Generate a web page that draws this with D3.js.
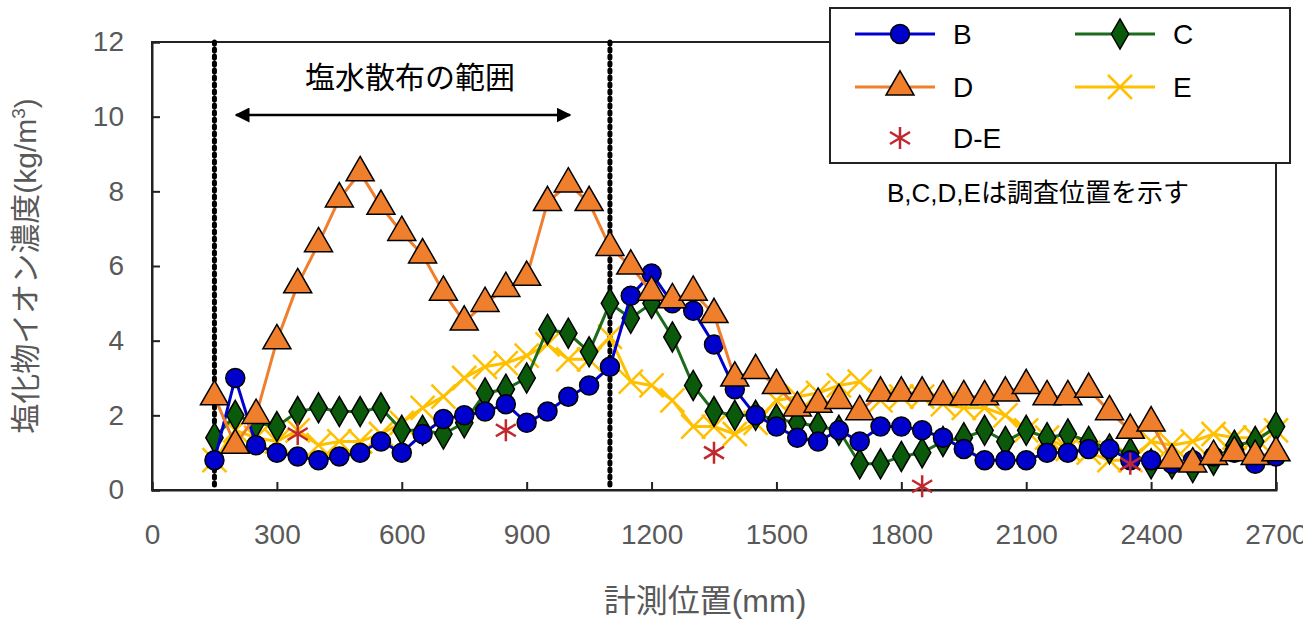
<!DOCTYPE html>
<html><head><meta charset="utf-8">
<script src="https://cdn.jsdelivr.net/npm/d3@7"></script>
<style>body{margin:0;background:#fff}text{font-family:"Liberation Sans",Arial,"Noto Sans CJK JP",sans-serif}</style>
</head><body><svg id="c" width="1303" height="631"></svg>
<script>
// measurement positions (mm), 50 mm pitch
var xs = d3.range(150, 2701, 50);
var seriesB = [0.8,3.0,1.2,1.0,0.9,0.8,0.9,1.0,1.3,1.0,1.5,1.9,2.0,2.1,2.3,1.8,2.1,2.5,2.8,3.3,5.2,5.8,5.0,4.8,3.9,2.7,2.0,1.7,1.4,1.3,1.6,1.3,1.7,1.7,1.6,1.4,1.1,0.8,0.8,0.8,1.0,1.0,1.1,1.1,0.8,0.8,0.7,0.8,0.9,1.0,0.7,0.9];
var seriesC = [1.4,2.0,1.8,1.7,2.1,2.2,2.1,2.1,2.2,1.6,1.6,1.5,1.8,2.6,2.7,3.0,4.3,4.2,3.7,5.0,4.6,5.0,4.1,2.8,2.1,2.0,2.0,1.9,1.8,1.7,1.6,0.7,0.7,0.9,1.0,1.3,1.4,1.6,1.3,1.6,1.4,1.5,1.3,1.1,1.0,0.7,0.7,0.6,0.8,1.2,1.3,1.7];
var seriesD = [2.5,1.2,2.0,4.0,5.5,6.6,7.8,8.5,7.6,6.9,6.3,5.3,4.5,5.0,5.4,5.7,7.7,8.2,7.7,6.5,6.0,5.3,5.1,5.3,4.7,3.0,3.2,2.8,2.2,2.3,2.4,2.1,2.6,2.6,2.6,2.5,2.5,2.5,2.6,2.8,2.5,2.5,2.7,2.1,1.6,1.8,0.8,0.7,0.9,1.0,0.9,1.0];
var seriesE = [0.8,1.6,1.4,1.3,1.6,1.2,1.3,1.3,1.5,1.8,2.2,2.5,3.0,3.3,3.4,3.6,3.9,3.5,3.5,4.1,2.9,2.8,2.4,1.7,1.7,1.5,1.8,2.4,2.5,2.6,2.8,2.9,2.4,2.5,2.5,2.3,2.2,2.2,2.0,1.6,1.4,1.1,1.0,0.8,0.8,1.3,1.2,1.3,1.5,1.4,1.4,1.6];
var deX = [350, 850, 1350, 1850, 2350];
var deV = [1.5, 1.6, 1.0, 0.1, 0.7];
var xTicks = d3.range(0, 2701, 300);
var yTicks = d3.range(0, 13, 2);

var svg = d3.select("#c");
var L = 152, R = 1276, T = 42, B = 490;
var x = d3.scaleLinear().domain([0, 2700]).range([L, R]);
var y = d3.scaleLinear().domain([0, 12]).range([B, T]);

var g = svg.append("g");
// frame
g.append("rect").attr("x", L).attr("y", T).attr("width", R - L).attr("height", B - T)
  .attr("fill", "none").attr("stroke", "#222").attr("stroke-width", 2);

var xAxis = g.append("g").attr("transform", "translate(0," + B + ")")
  .call(d3.axisBottom(x).tickValues(xTicks).tickFormat(d3.format("d")).tickSize(-8).tickPadding(34));
var yAxis = g.append("g").attr("transform", "translate(" + L + ",0)")
  .call(d3.axisLeft(y).tickValues(yTicks).tickSize(-8).tickPadding(28));
[xAxis, yAxis].forEach(function(a) {
  a.select(".domain").attr("stroke", "#222").attr("stroke-width", 2);
  a.selectAll("line").attr("stroke", "#222").attr("stroke-width", 2);
  a.selectAll("text").attr("font-size", 28).attr("fill", "#595959");
});

// dotted range lines
[150, 1100].forEach(function(v) {
  g.append("line").attr("x1", x(v)).attr("x2", x(v)).attr("y1", T).attr("y2", B)
    .attr("stroke", "#000").attr("stroke-width", 5).attr("stroke-dasharray", "2,5")
    .attr("stroke-linecap", "round");
});

var line = d3.line().x(function(d) { return x(d[0]); }).y(function(d) { return y(d[1]); });
function pts(vals) { return vals.map(function(v, i) { return [xs[i], v]; }); }

var tri = d3.symbol().type(d3.symbolTriangle).size(340);
var dia = d3.symbol().type(d3.symbolDiamond).size(260);
var series = [
  {v: seriesE, c: "#ffc000", m: "x"},
  {v: seriesC, c: "#1a6b1a", m: "dia"},
  {v: seriesB, c: "#0000cc", m: "circ"},
  {v: seriesD, c: "#f07f2d", m: "tri"}
];
function marker(sel, m, c) {
  if (m === "circ") sel.append("circle").attr("r", 9.5).attr("fill", "#0000cc").attr("stroke", "#000").attr("stroke-width", 1.5);
  else if (m === "tri") sel.append("path").attr("d", tri).attr("fill", "#f07f2d").attr("stroke", "#000").attr("stroke-width", 1.5);
  else if (m === "dia") sel.append("path").attr("d", dia).attr("fill", "#0b5a0b").attr("stroke", "#000").attr("stroke-width", 1.5);
  else if (m === "x") sel.append("path").attr("d", "M-12,-12L12,12M-12,12L12,-12").attr("stroke", c).attr("stroke-width", 2.5);
  else if (m === "star") sel.append("path").attr("d", "M0,-11V11M-10,-6L10,6M-10,6L10,-6").attr("stroke", "#c0282d").attr("stroke-width", 2.5);
}
series.forEach(function(s) {
  var p = pts(s.v);
  g.append("path").datum(p).attr("d", line).attr("fill", "none").attr("stroke", s.c).attr("stroke-width", 3);
  g.selectAll(null).data(p).enter().append("g")
    .attr("transform", function(d) { return "translate(" + x(d[0]) + "," + y(d[1]) + ")"; })
    .each(function() { marker(d3.select(this), s.m, s.c); });
});
g.selectAll(null).data(deX.map(function(v, i) { return [v, deV[i]]; })).enter().append("g")
  .attr("transform", function(d) { return "translate(" + x(d[0]) + "," + y(d[1]) + ")"; })
  .each(function() { marker(d3.select(this), "star"); });

// spray range annotation
var defs = svg.append("defs");
defs.append("marker").attr("id", "ah").attr("viewBox", "0 0 10 10").attr("refX", 9).attr("refY", 5)
  .attr("markerWidth", 6).attr("markerHeight", 6).attr("orient", "auto-start-reverse")
  .append("path").attr("d", "M0,0L10,5L0,10z").attr("fill", "#000");
g.append("line").attr("x1", 236).attr("x2", 570).attr("y1", 115).attr("y2", 115)
  .attr("stroke", "#000").attr("stroke-width", 2.5)
  .attr("marker-start", "url(#ah)").attr("marker-end", "url(#ah)");
g.append("text").attr("x", 410).attr("y", 88).attr("text-anchor", "middle")
  .attr("font-size", 30).attr("fill", "#000").text("塩水散布の範囲");

// legend
var lg = svg.append("g");
lg.append("rect").attr("x", 830).attr("y", 8).attr("width", 460).attr("height", 155)
  .attr("fill", "#fff").attr("stroke", "#222").attr("stroke-width", 2);
var items = [
  {n: "B", m: "circ", c: "#0000cc", lx: 855, ty: 34},
  {n: "C", m: "dia", c: "#1a6b1a", lx: 1075, ty: 34},
  {n: "D", m: "tri", c: "#f07f2d", lx: 855, ty: 87},
  {n: "E", m: "x", c: "#ffc000", lx: 1075, ty: 87},
  {n: "D-E", m: "star", c: null, lx: 855, ty: 138}
];
items.forEach(function(it) {
  if (it.c) lg.append("line").attr("x1", it.lx).attr("x2", it.lx + 80).attr("y1", it.ty).attr("y2", it.ty)
    .attr("stroke", it.c).attr("stroke-width", 3);
  var mg = lg.append("g").attr("transform", "translate(" + (it.lx + 45) + "," + it.ty + ")");
  marker(mg, it.m, it.c);
  lg.append("text").attr("x", it.lx + 98).attr("y", it.ty + 10).attr("font-size", 28).attr("fill", "#000").text(it.n);
});
svg.append("text").attr("x", 1038).attr("y", 202).attr("text-anchor", "middle")
  .attr("font-size", 26).attr("fill", "#000").text("B,C,D,Eは調査位置を示す");

// axis titles
svg.append("text").attr("x", 705).attr("y", 612).attr("text-anchor", "middle")
  .attr("font-size", 32).attr("fill", "#595959").text("計測位置(mm)");
var yt = svg.append("text").attr("transform", "translate(36,266) rotate(-90)").attr("text-anchor", "middle")
  .attr("font-size", 30).attr("fill", "#595959");
yt.append("tspan").text("塩化物イオン濃度(kg/m");
yt.append("tspan").attr("font-size", 19).attr("dy", -11).text("3");
yt.append("tspan").attr("dy", 11).text(")");
</script></body></html>
